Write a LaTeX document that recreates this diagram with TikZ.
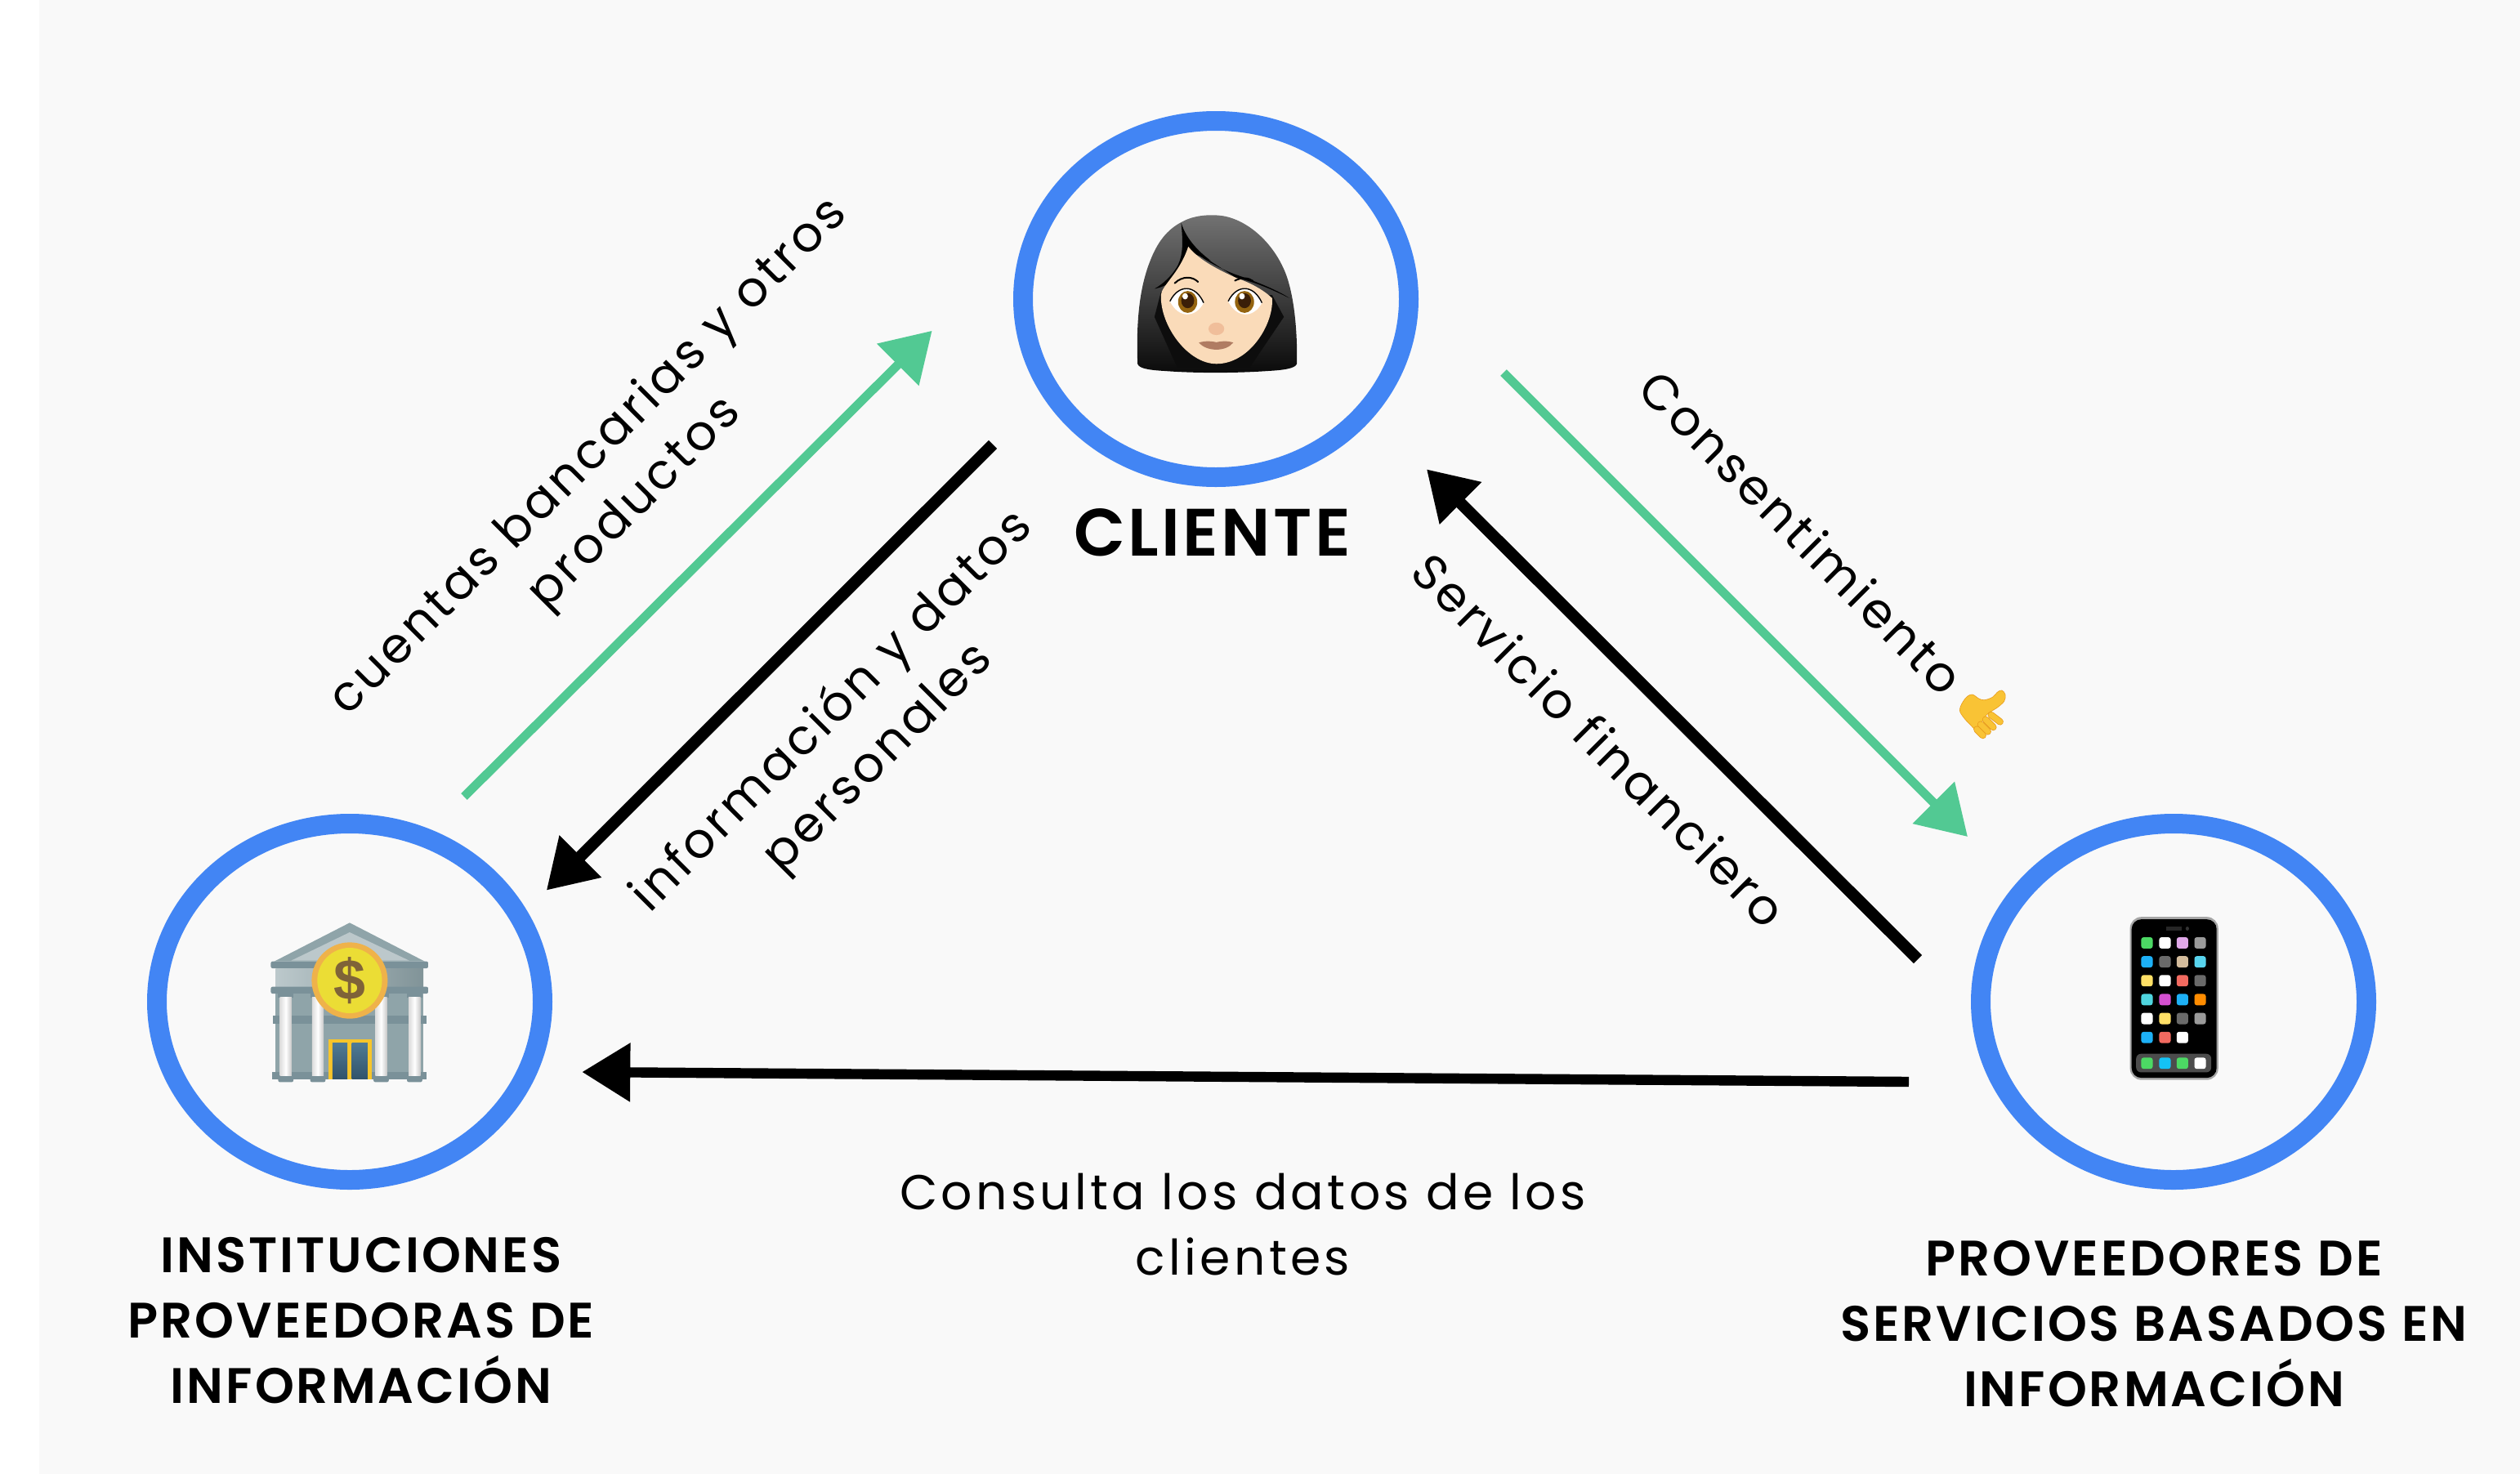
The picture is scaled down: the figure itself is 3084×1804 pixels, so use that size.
\documentclass[tikz,border=0pt]{standalone}
\usepackage{fontspec}
\usetikzlibrary{arrows.meta,shapes.geometric}
\setmainfont{Poppins}
\newfontfamily\edgefont[LetterSpace=6.6]{Poppins}
\newfontfamily\wideedgefont[LetterSpace=7.2]{Poppins}
\newfontfamily\headfont[LetterSpace=4.9]{Poppins SemiBold}
\newfontfamily\bigheadfont[LetterSpace=4.1]{Poppins SemiBold}
\newfontfamily\dollarfont{Liberation Sans}
\definecolor{bgc}{HTML}{F9F9F9}
\definecolor{ringc}{HTML}{4285F4}
\definecolor{greenc}{HTML}{52C993}
\definecolor{hg}{HTML}{4CD964}
\definecolor{hb}{HTML}{1DB0F6}
\definecolor{hp}{HTML}{E0A8E8}
\definecolor{hq}{HTML}{9A9A9A}
\definecolor{hd}{HTML}{6A6A6A}
\definecolor{ht}{HTML}{D4BC9C}
\definecolor{hc}{HTML}{58D4EE}
\definecolor{hy}{HTML}{FFE066}
\definecolor{hr}{HTML}{F26A60}
\definecolor{hl}{HTML}{4FD5DE}
\definecolor{hm}{HTML}{D44FD0}
\definecolor{ho}{HTML}{FF8C00}
\definecolor{hs}{HTML}{14C2F5}
\definecolor{handc}{HTML}{F9C335}
\definecolor{handd}{HTML}{E89C1D}
\definecolor{stone}{HTML}{8FA4A9}
\definecolor{stoned}{HTML}{7A9199}
\definecolor{facec}{HTML}{FADBB9}
\definecolor{nosec}{HTML}{F0BE9A}
\definecolor{lipc}{HTML}{B07C62}
\definecolor{irisc}{HTML}{946410}
\definecolor{pupilc}{HTML}{3A1E08}
\definecolor{rimc}{HTML}{EFB24A}
\definecolor{coinc}{HTML}{EBDD35}
\definecolor{dollarc}{HTML}{7F6338}
\definecolor{doorc}{HTML}{F7C52A}
\definecolor{panet}{HTML}{4F7A94}
\definecolor{paneb}{HTML}{32536B}
\tikzset{
  ring/.style={draw=ringc,line width=12pt,ellipse,minimum width=236pt,minimum height=218pt,inner sep=0pt,outer sep=0pt},
  head/.style={font=\headfont\fontsize{30.5}{40}\selectfont,align=center,anchor=base,inner sep=0pt},
  edgelabel/.style={font=\edgefont\fontsize{30}{40}\selectfont,align=center,anchor=base,inner sep=0pt},
  greenarrow/.style={draw=greenc,line width=5.4pt,-{Triangle[length=29.5pt,width=35pt,fill=greenc]}},
  blackarrow/.style={draw=black,line width=7.2pt,-{Triangle[length=29.5pt,width=34.5pt,fill=black]}},
  column/.style={left color=black!14,right color=black!22,middle color=white},
  icon/.style={fill=#1,rounded corners=1.5pt}
}
\begin{document}
\begin{tikzpicture}[x=0.5pt,y=-0.5pt]
\useasboundingbox (0,0) rectangle (3084,1804);
\fill[bgc] (48,0) rectangle (3084,1804);

% rings
\node[ring] (cliente) at (1488,366) {};
\node[ring] (banco) at (428,1226) {};
\node[ring] (movil) at (2660,1226) {};

% connector ends
\coordinate (g1s) at (568,975);
\coordinate (g1e) at (1140.6,404.8);
\coordinate (k1s) at (1215,544);
\coordinate (k1e) at (668.7,1089.7);
\coordinate (g2s) at (1840,456);
\coordinate (g2e) at (2408,1024);
\coordinate (k2s) at (2347,1174);
\coordinate (k2e) at (1745.8,574.2);
\coordinate (k3s) at (2336,1324);
\coordinate (k3e) at (712.3,1312);

\draw[greenarrow] (g1s) -- (g1e);
\draw[blackarrow] (k1s) -- (k1e);
\draw[greenarrow] (g2s) -- (g2e);
\draw[blackarrow] (k2s) -- (k2e);
\draw[blackarrow,line width=6.2pt] (k3s) -- (k3e);

% labels
\node[head,font=\bigheadfont\fontsize{41}{50}\selectfont] (tcliente) at (1483.5,680.6) {CLIENTE};
\node[head] (tbanco) at (442,1717.7) {INSTITUCIONES\\PROVEEDORAS DE\\INFORMACIÓN};
\node[head] (tmovil) at (2636,1721.6) {PROVEEDORES DE\\SERVICIOS BASADOS EN\\INFORMACIÓN};
\node[edgelabel,rotate=45] (lg1) at (788.7,627.6) {cuentas bancarias y otros\\productos};
\node[edgelabel,rotate=45] (lk1) at (1087,939.6) {información y datos\\personales};
\node[edgelabel,rotate=-45] (lg2) at (2189,667) {Consentimiento};
\node[edgelabel,rotate=-45] (lk2) at (1941.7,921.4) {Servicio financiero};
\node[edgelabel,font=\wideedgefont\fontsize{30}{40}\selectfont] (lk3) at (1521,1560) {Consulta los datos de los\\clientes};

% woman
\begin{scope}[shift={(1220,120)},x=0.17218pt,y=-0.19135pt]
\shade[top color=black!55,middle color=black!92,bottom color=black!96]
 (500,850) .. controls (495,720) and (505,610) .. (545,520) .. controls (575,450) and (615,415) .. (660,395)
 .. controls (700,375) and (760,370) .. (810,378) .. controls (900,395) and (990,470) .. (1030,570)
 .. controls (1060,650) and (1068,760) .. (1066,850) .. controls (1060,865) and (1020,870) .. (960,873)
 .. controls (850,880) and (700,880) .. (600,873) .. controls (540,870) and (505,865) .. (500,850) -- cycle;
\fill[black!95] (583,620) -- (560,700) -- (640,860) -- (900,860) -- (1020,700) -- (978,630) -- cycle;
\fill[black] (655,400) .. controls (660,450) and (665,500) .. (640,540) .. controls (620,570) and (590,595) .. (560,610)
 .. controls (620,600) and (670,560) .. (680,475) -- cycle;
\fill[black] (680,475) .. controls (720,510) and (790,545) .. (850,565) .. controls (900,580) and (990,610) .. (1040,640)
 .. controls (950,600) and (900,585) .. (850,575) -- cycle;
\fill[black] (655,400) .. controls (670,440) and (700,480) .. (760,520) -- (680,490) -- cycle;
\fill[facec] (680,475) .. controls (720,520) and (790,550) .. (850,575)
 .. controls (900,590) and (950,615) .. (978,640) .. controls (985,720) and (900,850) .. (780,850)
 .. controls (680,850) and (580,730) .. (583,630) .. controls (585,600) and (650,560) .. (680,475) -- cycle;
\draw[black,line width=1pt,line cap=round] (632,592) .. controls (660,568) and (695,570) .. (715,588);
\draw[black,line width=1pt,line cap=round] (846,584) .. controls (870,572) and (895,575) .. (910,585);
\foreach \ex/\ix in {675/678,882/880}{
 \fill[white] (\ex-60,650) .. controls (\ex-30,595) and (\ex+30,595) .. (\ex+60,655) .. controls (\ex+30,705) and (\ex-30,705) .. (\ex-60,650) -- cycle;
 \draw[black,line width=.7pt] (\ex-60,650) .. controls (\ex-30,595) and (\ex+30,595) .. (\ex+60,655);
 \fill[irisc] (\ix,652) ellipse (34 and 35);
 \fill[pupilc] (\ix,648) ellipse (23 and 24);
 \fill[white] (\ix-9,634) ellipse (10 and 10);
}
\fill[nosec] (780,738) ellipse (28 and 20);
\fill[lipc] (718,782) .. controls (745,775) and (765,778) .. (780,781) .. controls (795,778) and (815,775) .. (840,782)
 .. controls (815,812) and (745,812) .. (718,782) -- cycle;
\end{scope}

% bank
\begin{scope}[shift={(160,980)},x=0.17218pt,y=-0.16667pt]
\fill[stone] (778,448) -- (1045,590) -- (510,590) -- cycle;
\fill[stone!60!white] (778,483) -- (990,587) -- (570,587) -- cycle;
\fill[stoned,rounded corners=1pt] (498,590) rectangle (1057,615);
\shade[left color=stone!60!white,right color=stone!90!black] (515,615) rectangle (1040,685);
\fill[stoned,rounded corners=1pt] (498,683) rectangle (1057,708);
\fill[stone] (515,708) rectangle (1040,1000);
\fill[stoned] (505,790) rectangle (1050,818);
\fill[stoned] (503,995) rectangle (1050,1022);
\foreach \cx in {551,665,890,1009}{
 \fill[stoned] (\cx-27,708) rectangle (\cx+27,722);
 \shade[column] (\cx-21,722) rectangle (\cx+21,1010);
 \fill[stoned,rounded corners=1pt] (\cx-27,1012) rectangle (\cx+27,1033);
}
\fill[doorc] (702,875) rectangle (856,1022);
\shade[top color=panet,bottom color=paneb] (717,890) rectangle (770,1020);
\shade[top color=panet,bottom color=paneb] (786,890) rectangle (842,1020);
\fill[rimc] (778,660) ellipse (135 and 140);
\fill[coinc] (778,660) ellipse (115 and 120);
\node[inner sep=0pt,text=dollarc,font=\dollarfont\bfseries\fontsize{35}{35}\selectfont] (dolar) at (778,660) {\$};
\end{scope}

% phone
\begin{scope}[shift={(2400,820)},x=0.17218pt,y=-0.21044pt]
\fill[black!35,rounded corners=7pt] (600,718) rectangle (914,1192);
\fill[black,rounded corners=6pt] (606,725) rectangle (908,1186);
\fill[black!85] (730,747) rectangle (784,758);
\fill[black!80] (804,752) circle (6);
\foreach \ix/\iy/\ic in {640/777/hg,704/777/white,766/777/hp,829/777/hq,
 640/832/hb,704/832/hd,766/832/ht,829/832/hc,
 640/887/hy,704/887/white,766/887/hr,829/887/hd,
 640/942/hl,704/942/hm,766/942/hb,829/942/ho,
 640/997/white,704/997/hy,766/997/hd,829/997/hq,
 640/1052/hb,704/1052/hr,766/1052/white}{
 \path[icon=\ic] (\ix,\iy) rectangle (\ix+41,\iy+33);
}
\fill[black!70,rounded corners=3pt] (622,1116) rectangle (889,1170);
\foreach \ix/\ic in {640/hg,704/hs,766/hg,829/white}{
 \path[icon=\ic] (\ix,1127) rectangle (\ix+41,1160);
}
\end{scope}

% hand
\begin{scope}[shift={(2380,830)},x=0.16667pt,y=-0.16667pt]
\fill[handc,draw=handd,line width=.3pt] plot[smooth cycle,tension=.6] coordinates {(55,115) (75,75) (100,60) (125,75) (145,80) (175,70) (195,50) (210,45) (222,60) (218,85) (190,110) (165,125) (145,145) (130,175) (115,190) (95,172) (70,145)};
\foreach \ax/\ay/\bx/\by in {170/135/203/160,150/152/178/180,132/170/158/196,118/188/140/210}{
 \draw[handd,line width=4.2pt,line cap=round] (\ax,\ay) -- (\bx,\by);
 \draw[handc,line width=3.4pt,line cap=round] (\ax,\ay) -- (\bx,\by);
}
\end{scope}
\end{tikzpicture}
\end{document}
